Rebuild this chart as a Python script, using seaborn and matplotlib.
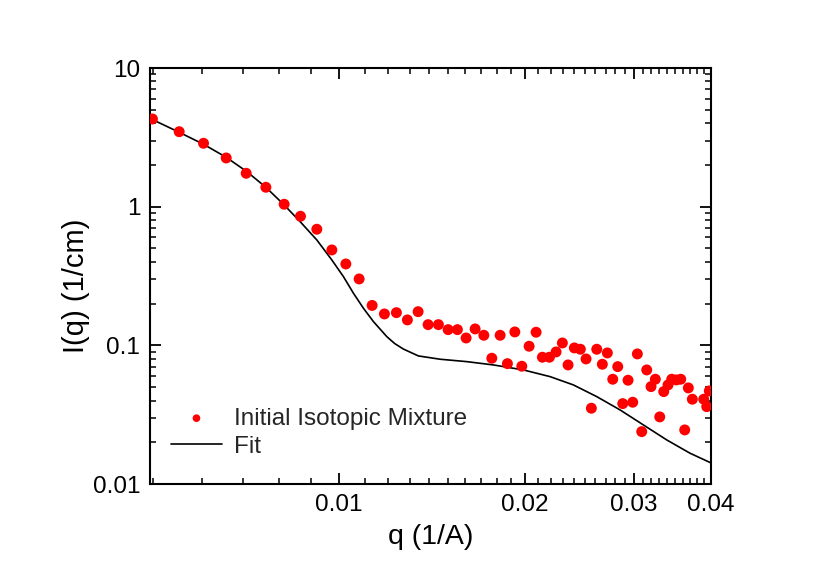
import matplotlib
matplotlib.use("Agg")
import matplotlib.pyplot as plt
import seaborn as sns
from matplotlib.ticker import FixedLocator, FixedFormatter, NullFormatter, LogLocator, MultipleLocator

sns.set_theme(style="ticks")
plt.rcParams['font.family'] = ['Liberation Sans', 'DejaVu Sans']

# measured data (q in 1/A, I in 1/cm)
q_data = [0.004985, 0.005508, 0.006031, 0.006563, 0.007071, 0.007609, 0.008146, 0.008657,
          0.009201, 0.009731, 0.010252, 0.010773, 0.011308, 0.011838, 0.012379, 0.012897,
          0.013422, 0.013932, 0.014478, 0.015011, 0.015540, 0.016053, 0.016600, 0.017148,
          0.017667, 0.018223, 0.018726, 0.019250, 0.019758, 0.020303, 0.020839, 0.021334,
          0.021898, 0.022450, 0.022983, 0.023476, 0.024033, 0.024576, 0.025104, 0.025605,
          0.026126, 0.026677, 0.027178, 0.027731, 0.028253, 0.028785, 0.029359, 0.029878,
          0.030395, 0.030897, 0.031478, 0.031986, 0.032503, 0.033041, 0.033537, 0.034079,
          0.034552, 0.035150, 0.035731, 0.036268, 0.036758, 0.037310, 0.038930, 0.039368,
          0.039749]
i_data = [4.289, 3.473, 2.865, 2.245, 1.741, 1.380, 1.041, 0.8527,
          0.6874, 0.4874, 0.3862, 0.3011, 0.1940, 0.1684, 0.1721, 0.1525,
          0.1749, 0.1410, 0.1410, 0.1298, 0.1298, 0.1130, 0.1313, 0.1182,
          0.08072, 0.1182, 0.07380, 0.1249, 0.07068, 0.09852, 0.1243, 0.08207,
          0.08207, 0.08962, 0.1040, 0.07222, 0.09578, 0.09373, 0.07979, 0.03520,
          0.09373, 0.07306, 0.08814, 0.05696, 0.07021, 0.03799, 0.05602, 0.03888,
          0.08670, 0.02386, 0.06646, 0.05039, 0.05696, 0.03047, 0.04638, 0.05183,
          0.05696, 0.05630, 0.05696, 0.02455, 0.04931, 0.04087, 0.04087, 0.03614,
          0.04692]

# fit curve
q_fit = [0.004940, 0.005508, 0.006031, 0.006563, 0.007090, 0.007609, 0.008146, 0.008647,
         0.009201, 0.009731, 0.010161, 0.010547, 0.010947, 0.011363, 0.011945, 0.012300,
         0.012706, 0.013437, 0.014571, 0.016095, 0.017773, 0.019876, 0.021955, 0.023944,
         0.026126, 0.028497, 0.031082, 0.033915, 0.036992, 0.040000]
i_fit = [4.33, 3.439, 2.818, 2.271, 1.788, 1.380, 1.0286, 0.7795,
         0.5753, 0.4127, 0.3129, 0.2375, 0.1851, 0.1483, 0.1155, 0.1030,
         0.0940, 0.08387, 0.07939, 0.07628, 0.07222, 0.06646, 0.05947, 0.05183,
         0.04267, 0.03422, 0.02668, 0.02079, 0.01667, 0.01419]

x_ticks = [0.01, 0.02, 0.03, 0.04]
x_tick_labels = ["0.01", "0.02", "0.03", "0.04"]
y_ticks = [0.01, 0.1, 1, 10]
y_tick_labels = ["0.01", "0.1", "1", "10"]

fig = plt.figure(figsize=(8.13, 5.75), dpi=100)
fig.patch.set_facecolor('white')
ax = fig.add_axes([150/813, 1 - 484/575, 561/813, 416/575])
ax.set_facecolor('white')

sns.scatterplot(x=q_data, y=i_data, ax=ax, color='#ff0000', s=62, edgecolor='none',
                linewidth=0, label='Initial Isotopic Mixture', zorder=3)
sns.lineplot(x=q_fit, y=i_fit, ax=ax, color='black', linewidth=1.2, label='Fit',
             sort=False, estimator=None, zorder=2)

ax.set_xscale('log')
ax.set_yscale('log')
ax.set_xlim(0.00494, 0.04)
ax.set_ylim(0.01, 10)

ax.xaxis.set_major_locator(FixedLocator(x_ticks))
ax.xaxis.set_major_formatter(FixedFormatter(x_tick_labels))
ax.xaxis.set_minor_locator(MultipleLocator(0.001))
ax.xaxis.set_minor_formatter(NullFormatter())
ax.yaxis.set_major_locator(FixedLocator(y_ticks))
ax.yaxis.set_major_formatter(FixedFormatter(y_tick_labels))
ax.yaxis.set_minor_locator(LogLocator(base=10, subs=[2, 3, 4, 5, 6, 7, 8, 9], numticks=20))
ax.yaxis.set_minor_formatter(NullFormatter())

for sp in ax.spines.values():
    sp.set_visible(True)
    sp.set_linewidth(1.5)
    sp.set_color('black')

ax.tick_params(which='both', direction='in', top=True, right=True, color='black')
ax.tick_params(which='major', length=8, width=1.3, labelsize=17.5, pad=7, labelcolor='black')
ax.tick_params(which='minor', length=4.5, width=1.1)

ax.set_xlabel('q (1/A)', fontsize=20.5, labelpad=6, color='black')
ax.set_ylabel('I(q) (1/cm)', fontsize=21, color='black')
ax.yaxis.set_label_coords(-0.107, 0.476)

leg = ax.legend(loc='lower left', bbox_to_anchor=(0.02, 0.04), frameon=False, fontsize=17.5,
                handlelength=2.1, handletextpad=0.5, labelspacing=0.25, markerscale=0.7,
                borderaxespad=0)

fig.savefig('out.png', dpi=100, facecolor='white')
